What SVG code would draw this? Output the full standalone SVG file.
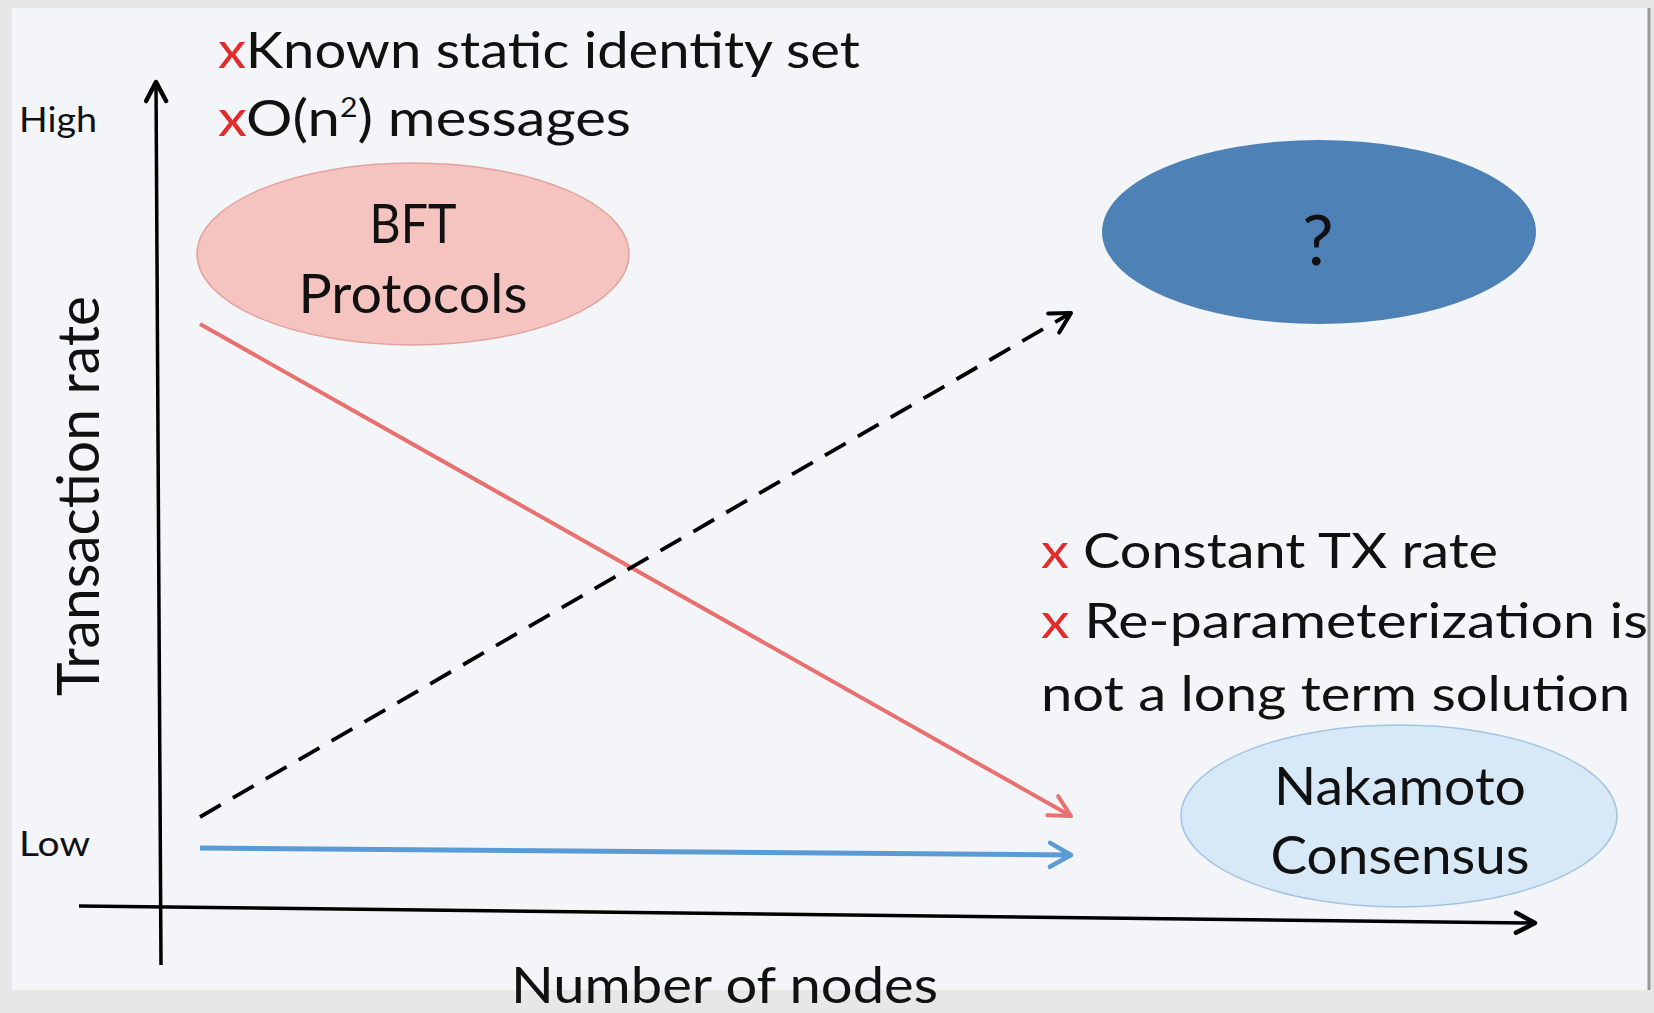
<svg xmlns="http://www.w3.org/2000/svg" width="1654" height="1013" viewBox="0 0 1654 1013">
<style>
  text { font-family: Lato, "Liberation Sans", sans-serif; fill: #111; }
  .x { fill: #e32b2b; }
  .c { text-anchor: middle; }
  .axis { stroke: #000; stroke-width: 3.5; fill: none; }
</style>
<defs>
  <marker id="ahBlack" markerUnits="userSpaceOnUse" markerWidth="40" markerHeight="40" viewBox="-30 -20 40 40" refX="0" refY="0" orient="auto">
    <path d="M -20 -11 L 0 0 L -20 11" fill="none" stroke="#000" stroke-width="4" stroke-linecap="round" stroke-linejoin="round"/>
  </marker>
  <marker id="ahAxis" markerUnits="userSpaceOnUse" markerWidth="40" markerHeight="40" viewBox="-30 -20 40 40" refX="0" refY="0" orient="auto">
    <path d="M -19 -10 L 0 0 L -19 10" fill="none" stroke="#000" stroke-width="4.5" stroke-linecap="round" stroke-linejoin="round"/>
  </marker>
  <marker id="ahRed" markerUnits="userSpaceOnUse" markerWidth="40" markerHeight="40" viewBox="-30 -20 40 40" refX="0" refY="0" orient="auto">
    <path d="M -21 -11 L 0 0 L -21 11" fill="none" stroke="#e8706f" stroke-width="4" stroke-linecap="round" stroke-linejoin="round"/>
  </marker>
  <marker id="ahBlue" markerUnits="userSpaceOnUse" markerWidth="40" markerHeight="40" viewBox="-30 -20 40 40" refX="0" refY="0" orient="auto">
    <path d="M -21 -12 L 0 0 L -21 12" fill="none" stroke="#5b9bd5" stroke-width="4.5" stroke-linecap="round" stroke-linejoin="round"/>
  </marker>
</defs>

<!-- frame / background -->
<rect width="1654" height="1013" fill="#e7e7e8"/>
<rect x="12" y="8" width="1636" height="982" fill="#f4f5f9"/>
<line x1="1649" y1="8" x2="1649" y2="990" stroke="#9a9a9a" stroke-width="3"/>

<!-- axes -->
<g id="axes">
  <line class="axis" x1="161" y1="965" x2="156" y2="82" marker-end="url(#ahAxis)"/>
  <line class="axis" x1="79" y1="906" x2="1535" y2="923" marker-end="url(#ahAxis)"/>
  <text x="19" y="132" font-size="34" textLength="78" lengthAdjust="spacingAndGlyphs">High</text>
  <text x="19" y="856" font-size="34" textLength="71" lengthAdjust="spacingAndGlyphs">Low</text>
  <text transform="translate(99,696) rotate(-90)" x="0" y="0" font-size="58" textLength="400" lengthAdjust="spacingAndGlyphs">Transaction rate</text>
  <text x="511" y="1003" font-size="50" textLength="427" lengthAdjust="spacingAndGlyphs">Number of nodes</text>
</g>

<!-- connectors -->
<g id="connectors">
  <line x1="200" y1="324" x2="1071" y2="816" stroke="#e8706f" stroke-width="4" marker-end="url(#ahRed)"/>
  <line x1="200" y1="817" x2="1071" y2="313" stroke="#000" stroke-width="3.8" stroke-dasharray="24 14" marker-end="url(#ahBlack)"/>
  <line x1="200" y1="848" x2="1071" y2="855" stroke="#5b9bd5" stroke-width="5" marker-end="url(#ahBlue)"/>
</g>

<!-- BFT node -->
<g id="bft">
  <ellipse cx="413" cy="254" rx="216" ry="91" fill="#f5c4c0" stroke="#e2a39e" stroke-width="1.5"/>
  <text class="c" x="413" y="243" font-size="54" textLength="87" lengthAdjust="spacingAndGlyphs">BFT</text>
  <text class="c" x="413" y="313" font-size="54" textLength="229" lengthAdjust="spacingAndGlyphs">Protocols</text>
</g>

<!-- unknown node -->
<g id="unknown">
  <ellipse cx="1319" cy="232" rx="217" ry="92" fill="#4e82b6"/>
  <text class="c" x="1318" y="265" font-size="70">?</text>
</g>

<!-- Nakamoto node -->
<g id="nakamoto">
  <ellipse cx="1399" cy="816" rx="218" ry="91" fill="#d7e8f6" stroke="#a3c5e2" stroke-width="1.5"/>
  <text class="c" x="1400" y="805" font-size="52" textLength="252" lengthAdjust="spacingAndGlyphs">Nakamoto</text>
  <text class="c" x="1400" y="874" font-size="52" textLength="259" lengthAdjust="spacingAndGlyphs">Consensus</text>
</g>

<!-- BFT drawbacks -->
<g id="bft-notes">
  <text x="218" y="68" font-size="50" textLength="642" lengthAdjust="spacingAndGlyphs"><tspan class="x">x</tspan>Known static identity set</text>
  <text x="218" y="136" font-size="50" textLength="413" lengthAdjust="spacingAndGlyphs"><tspan class="x">x</tspan>O(n<tspan font-size="26" dy="-19">2</tspan><tspan dy="19">) messages</tspan></text>
</g>

<!-- Nakamoto drawbacks -->
<g id="nakamoto-notes">
  <text x="1041" y="568" font-size="49" textLength="457" lengthAdjust="spacingAndGlyphs"><tspan class="x">x</tspan> Constant TX rate</text>
  <text x="1041" y="638" font-size="49" textLength="607" lengthAdjust="spacingAndGlyphs"><tspan class="x">x</tspan> Re-parameterization is</text>
  <text x="1041" y="711" font-size="49" textLength="589" lengthAdjust="spacingAndGlyphs">not a long term solution</text>
</g>
</svg>
